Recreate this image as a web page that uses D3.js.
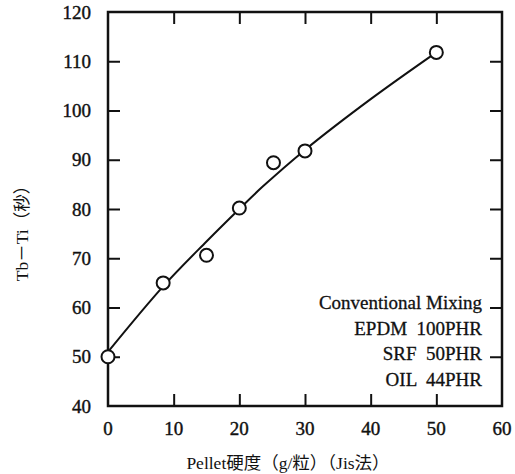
<!DOCTYPE html>
<html>
<head>
<meta charset="utf-8">
<script src="https://cdn.jsdelivr.net/npm/d3@7"></script>
<style>
  body { margin: 0; background: #fff; }
</style>
</head>
<body>
<div id="chart"></div>
<script>
// measured points (x = pellet hardness, y = Tb-Ti)
var hardness = [0, 8.4, 15, 20, 25.2, 30, 50];
var tbti = [50, 65, 70.6, 80.2, 89.4, 91.8, 111.8];

// drawn fitted curve
var curveX = [0, 8.4, 15, 20, 23.6, 30, 40, 50];
var curveY = [51, 64.3, 73.4, 80, 84.6, 92, 102.3, 111.8];

var xTicks = [0, 10, 20, 30, 40, 50, 60];
var yTicks = [40, 50, 60, 70, 80, 90, 100, 110, 120];
var noteLines = ["Conventional Mixing", "EPDM  100PHR", "SRF  50PHR", "OIL  44PHR"];

var width = 515, height = 474;
var margin = { top: 12, right: 13, bottom: 68, left: 108 };
var serif = "'Liberation Serif', 'DejaVu Serif', 'Times New Roman', serif";
var cjk = "'Liberation Serif', 'Noto Sans CJK JP', serif";

var x = d3.scaleLinear().domain([0, 60]).range([margin.left, width - margin.right]);
var y = d3.scaleLinear().domain([40, 120]).range([height - margin.bottom, margin.top]);

var svg = d3.select("#chart").append("svg")
  .attr("width", width)
  .attr("height", height);

var tickLen = 12;

// ticks on all four sides, pointing inward
svg.append("g")
  .attr("transform", "translate(0," + y(40) + ")")
  .call(d3.axisBottom(x).tickValues(xTicks.slice(1, -1)).tickSize(-tickLen).tickFormat(""))
  .call(g => g.select(".domain").remove());
svg.append("g")
  .attr("transform", "translate(0," + y(120) + ")")
  .call(d3.axisTop(x).tickValues(xTicks.slice(1, -1)).tickSize(-tickLen).tickFormat(""))
  .call(g => g.select(".domain").remove());
svg.append("g")
  .attr("transform", "translate(" + x(0) + ",0)")
  .call(d3.axisLeft(y).tickValues(yTicks.slice(1, -1)).tickSize(-tickLen).tickFormat(""))
  .call(g => g.select(".domain").remove());
svg.append("g")
  .attr("transform", "translate(" + x(60) + ",0)")
  .call(d3.axisRight(y).tickValues(yTicks.slice(1, -1)).tickSize(-tickLen).tickFormat(""))
  .call(g => g.select(".domain").remove());
svg.selectAll(".tick line").attr("stroke", "#111").attr("stroke-width", 2);

// frame
svg.append("rect")
  .attr("x", x(0)).attr("y", y(120))
  .attr("width", x(60) - x(0)).attr("height", y(40) - y(120))
  .attr("fill", "none").attr("stroke", "#111").attr("stroke-width", 2.5);

// tick labels
svg.append("g").selectAll("text")
  .data(xTicks)
  .join("text")
  .attr("x", d => x(d))
  .attr("y", y(40) + 29)
  .attr("text-anchor", "middle")
  .attr("font-family", serif)
  .attr("font-size", 19)
  .attr("fill", "#111")
  .attr("stroke", "#111")
  .attr("stroke-width", 0.4)
  .text(d => d);

svg.append("g").selectAll("text")
  .data(yTicks)
  .join("text")
  .attr("x", x(0) - 17)
  .attr("y", d => y(d))
  .attr("dy", "0.35em")
  .attr("text-anchor", "end")
  .attr("font-family", serif)
  .attr("font-size", 19)
  .attr("fill", "#111")
  .attr("stroke", "#111")
  .attr("stroke-width", 0.4)
  .text(d => d);

// curve
var line = d3.line()
  .x(d => x(d[0]))
  .y(d => y(d[1]))
  .curve(d3.curveCatmullRom);

svg.append("path")
  .datum(d3.zip(curveX, curveY))
  .attr("d", line)
  .attr("fill", "none")
  .attr("stroke", "#111")
  .attr("stroke-width", 2);

// points
svg.append("g").selectAll("circle")
  .data(d3.zip(hardness, tbti))
  .join("circle")
  .attr("cx", d => x(d[0]))
  .attr("cy", d => y(d[1]))
  .attr("r", 6.5)
  .attr("fill", "#fff")
  .attr("stroke", "#111")
  .attr("stroke-width", 2);

// note
svg.append("g").selectAll("text")
  .data(noteLines)
  .join("text")
  .attr("x", x(60) - 20)
  .attr("y", (d, i) => 309 + i * 25.5)
  .attr("text-anchor", "end")
  .attr("font-family", serif)
  .attr("font-size", 19)
  .attr("fill", "#111")
  .attr("stroke", "#111")
  .attr("stroke-width", 0.3)
  .attr("xml:space", "preserve")
  .style("white-space", "pre")
  .text(d => d);

// axis titles
svg.append("text")
  .attr("x", 288)
  .attr("y", 469)
  .attr("text-anchor", "middle")
  .attr("font-family", cjk)
  .attr("font-size", 17.5)
  .attr("fill", "#111")
  .text("Pellet硬度（g/粒）（Jis法）");

svg.append("text")
  .attr("transform", "translate(28,229) rotate(-90)")
  .attr("text-anchor", "middle")
  .attr("font-family", cjk)
  .attr("font-size", 17.5)
  .attr("fill", "#111")
  .text("Tb－Ti（秒）");
</script>
</body>
</html>
